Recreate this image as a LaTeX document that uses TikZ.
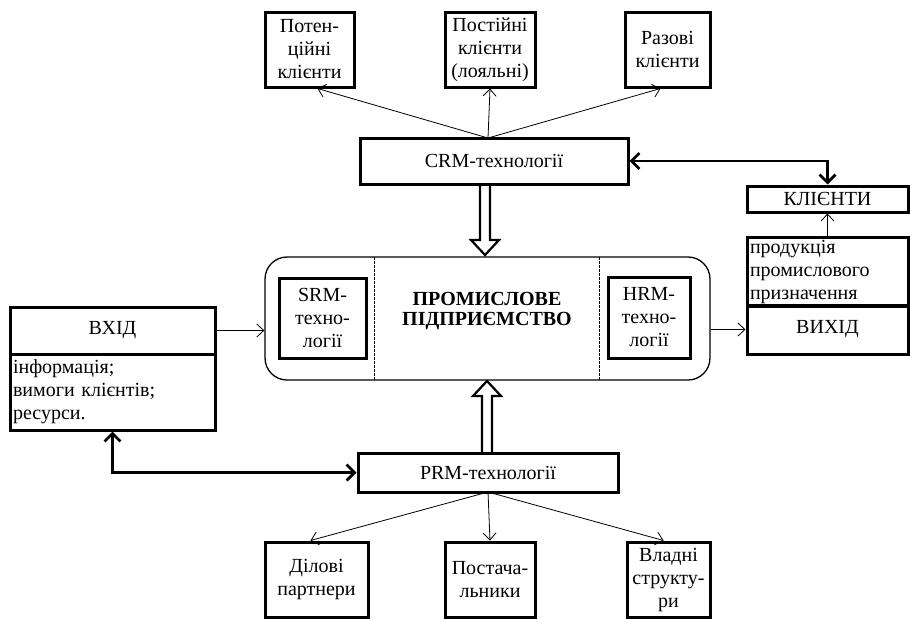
\documentclass[tikz,border=0pt]{standalone}
\usepackage{fontspec}
\setmainfont{Liberation Serif}
\usetikzlibrary{arrows.meta,calc}
\begin{document}
\begin{tikzpicture}[x=1pt,y=-1pt,
  every node/.style={font=\fontsize{20}{23}\selectfont},
  box/.style={draw, line width=3pt, inner sep=1pt, align=center},
  thinarrow/.style={line width=0.8pt, -{Straight Barb[length=7pt,width=13pt]}},
  thickarrow/.style={line width=2.8pt, {Straight Barb[length=8pt,width=16pt]}-{Straight Barb[length=8pt,width=16pt]}},
  hollow/.style={line width=2.2pt, line join=miter},
  divider/.style={line width=0.7pt, dash pattern=on 2.5pt off 1.5pt}]
\useasboundingbox (0,0) rectangle (910,619);

% top boxes
\node[box, minimum width=89, minimum height=75] (pot) at (309.5,49.5) {Потен-\\ційні\\клієнти};
\node[box, minimum width=90, minimum height=75] (post) at (490,49.5) {Постійні\\клієнти\\(лояльні)};
\node[box, minimum width=85, minimum height=75] (raz) at (667.5,49.5) {Разові\\клієнти};

% CRM
\node[box, minimum width=268, minimum height=46] (crm) at (494,161) {CRM-технології};
\coordinate (crmtop) at (488,138);

% right side
\node[box, minimum width=161, minimum height=26] (kl) at (827.5,199) {КЛІЄНТИ};
\node[box, minimum width=161, minimum height=69, text width=155, align=left, inner xsep=2pt] (prod) at (827.5,272) {продукція\\промислового\\призначення};
\node[box, minimum width=161, minimum height=49] (vyh) at (827.5,329.5) {ВИХІД};

% main enterprise
\node[draw, line width=1.3pt, rounded corners=22pt, minimum width=445, minimum height=123] (main) at (487.5,318.5) {};
\draw[divider] (374,257) -- (374,380);
\draw[divider] (599,257) -- (599,380);
\node[box, minimum width=87, minimum height=80] (srm) at (322.5,318) {SRM-\\техно-\\логії};
\node[box, minimum width=82, minimum height=81] (hrm) at (649,317.5) {HRM-\\техно-\\логії};
\node[align=center, font=\fontsize{20}{20}\selectfont\bfseries] (mtext) at (487,311) {ПРОМИСЛОВЕ\\ПІДПРИЄМСТВО};

% left side
\node[box, minimum width=205, minimum height=47] (vh) at (112.5,330.5) {ВХІД};
\node[box, minimum width=205, minimum height=76, text width=199, align=left, inner xsep=3pt] (list) at (112.5,392) {інформація;\\вимоги клієнтів;\\ресурси.};

% PRM
\node[box, minimum width=260, minimum height=39] (prm) at (488,472.5) {PRM-технології};

% bottom boxes
\node[box, minimum width=103, minimum height=75] (dil) at (316.5,579.5) {Ділові\\партнери};
\node[box, minimum width=90, minimum height=75] (psch) at (490,579.5) {Постача-\\льники};
\node[box, minimum width=83, minimum height=75] (vlad) at (668.5,579.5) {Владні\\структу-\\ри};

% thin connectors
\draw[thinarrow] (crmtop) -- ($(pot.south)+(8,0)$);
\draw[thinarrow] (crmtop) -- (post.south);
\draw[thinarrow] (crmtop) -- ($(raz.south)+(-7,0)$);
\draw[thinarrow] (prod.north) -- (kl.south);
\draw[thinarrow] (vh.east) -- (vh.east -| main.west);
\draw[thinarrow] (main.east |- vyh.west) -- (vyh.west);
\coordinate (prmbot) at (488,492);
\draw[thinarrow] (prmbot) -- ($(dil.north)+(-6,0)$);
\draw[thinarrow] (prmbot) -- (psch.north);
\draw[thinarrow] (prmbot) -- ($(vlad.north)+(-5,0)$);

% thick double arrows
\draw[thickarrow] (crm.east) -| (kl.north);
\draw[thickarrow] (list.south) |- (prm.west);

% hollow arrows
\draw[hollow] (480,185) -- (480,240) -- (471,240) -- (485,255) -- (499,240) -- (490,240) -- (490,185);
\draw[hollow] (482,452) -- (482,396) -- (473,396) -- (487,381) -- (501,396) -- (492,396) -- (492,452);
\end{tikzpicture}
\end{document}
